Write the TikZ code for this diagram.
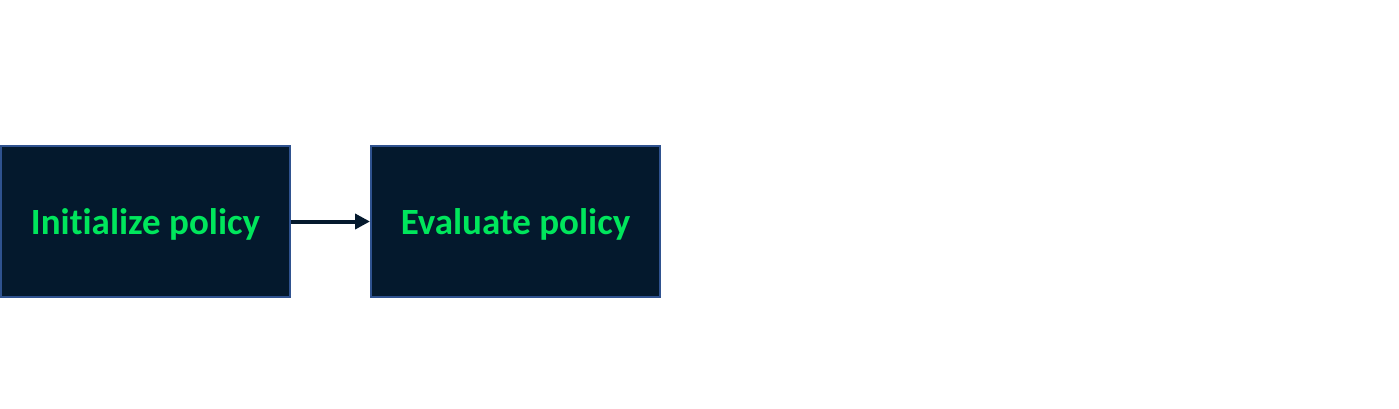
\documentclass[tikz,border=0pt]{standalone}
\usepackage{fontspec}
\setmainfont[Ligatures=NoCommon]{Carlito}
\usetikzlibrary{positioning, arrows.meta}
\definecolor{boxfill}{HTML}{04192D}
\definecolor{boxline}{HTML}{2F528F}
\definecolor{boxtext}{HTML}{00E65C}
\newcommand{\boxlabel}[1]{\raisebox{-3pt}[\height][\depth]{#1}}

\begin{document}
\begin{tikzpicture}[x=1pt, y=-1pt,
    stepbox/.style={draw=boxline, fill=boxfill, line width=2pt,
        minimum width=289pt, minimum height=151pt, inner sep=0pt,
        text=boxtext, font=\fontsize{37}{42}\selectfont\bfseries},
    flow/.style={draw=boxfill, line width=4pt, -{Triangle[length=15pt, width=15pt]}}]
        % Frame
        \useasboundingbox (0,0) rectangle (1399,408);
        % Boxes
        \node[stepbox] (init) at (145.5,221.5) {\boxlabel{Initialize policy}};
        \node[stepbox, right=79pt of init] (eval) {\boxlabel{Evaluate policy}};
        % Arrow between boxes
        \draw[flow] (init) -- (eval);
    \end{tikzpicture}
\end{document}
